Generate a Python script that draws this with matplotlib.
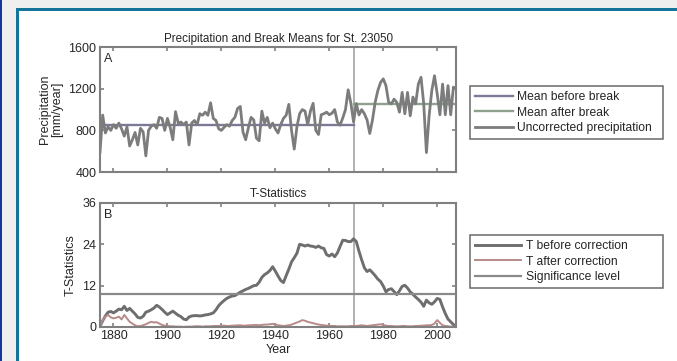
import numpy as np
import matplotlib.pyplot as plt
from matplotlib.patches import Rectangle

plt.rcParams['font.family'] = ['Liberation Sans', 'DejaVu Sans']

years = np.arange(1875, 2008)

precip = [
    590, 947, 775, 835, 800, 855, 820, 870, 815, 745,
    835, 650, 710, 780, 660, 820, 785, 555, 800, 840,
    855, 820, 925, 915, 800, 915, 830, 710, 980, 870,
    880, 855, 880, 660, 870, 895, 855, 960, 945, 975,
    945, 1065, 915, 895, 815, 800, 830, 855, 840, 895,
    925, 1010, 1030, 785, 710, 825, 925, 900, 725, 700,
    985, 870, 925, 825, 870, 815, 775, 855, 915, 945,
    1050, 800, 620, 835, 960, 1000, 985, 855, 985, 1060,
    800, 760, 950, 960, 975, 950, 965, 1000, 880, 850,
    920, 1000, 1190, 1060, 880, 1058, 948, 1000, 960, 900,
    770, 900, 1070, 1184, 1260, 1295, 1230, 1070, 1055, 1100,
    1070, 975, 1165, 960, 1165, 940, 1120, 1055, 1245, 1310,
    1055, 587, 940, 1184, 1325, 1150, 950, 1245, 950, 1230,
    950, 1215, 1200,
]

break_year = 1969
mean_before = 847
mean_after = 1052

t_before = [
    0.2, 1.8, 3.2, 4.3, 4.5, 4.1, 4.6, 5.2, 5.0, 6.0,
    4.8, 5.4, 4.6, 3.8, 2.8, 2.6, 3.1, 4.3, 4.6, 5.0,
    5.5, 6.3, 5.8, 5.1, 4.3, 3.6, 4.1, 4.6, 4.0, 3.4,
    3.0, 2.3, 2.1, 2.9, 3.2, 3.3, 3.3, 3.2, 3.3, 3.5,
    3.6, 3.8, 4.1, 5.0, 6.2, 7.0, 7.7, 8.3, 8.7, 9.0,
    9.1, 9.6, 10.1, 10.5, 10.9, 11.2, 11.6, 12.0, 12.1, 13.0,
    14.4, 15.2, 15.7, 16.4, 17.5, 16.2, 14.8, 13.5, 12.9, 14.9,
    16.8, 18.9, 20.1, 21.4, 24.0, 23.8, 23.5, 23.8, 23.5, 23.4,
    23.1, 23.5, 23.0, 22.8, 21.0, 20.6, 21.2, 20.4, 21.5, 23.4,
    25.2, 25.1, 24.8, 24.8, 25.6, 24.8, 22.0, 19.5, 17.2, 16.1,
    16.6, 15.8, 14.9, 13.9, 13.2, 11.9, 10.2, 10.9, 11.1, 10.3,
    9.4, 10.5, 11.8, 12.1, 11.3, 10.2, 9.5, 8.7, 8.0, 7.2,
    6.0, 7.8, 7.0, 6.6, 7.3, 8.3, 8.0, 5.8, 3.9, 2.3,
    1.5, 0.7, 0.1,
]

t_after = [
    0.0, 2.0, 3.0, 3.5, 2.8, 2.5, 2.7, 3.0, 2.2, 3.5,
    2.5, 1.5, 1.0, 0.5, 0.2, 0.3, 0.5, 0.8, 1.2, 1.5,
    1.3, 1.4, 1.0, 0.6, 0.4, 0.3, 0.2, 0.2, 0.1, 0.1,
    0.1, 0.0, 0.1, 0.1, 0.1, 0.2, 0.2, 0.2, 0.1, 0.2,
    0.2, 0.2, 0.3, 0.3, 0.3, 0.4, 0.4, 0.3, 0.3, 0.4,
    0.4, 0.5, 0.5, 0.4, 0.4, 0.5, 0.5, 0.6, 0.6, 0.5,
    0.6, 0.7, 0.7, 0.8, 0.9, 0.8, 0.5, 0.4, 0.3, 0.4,
    0.5, 0.7, 1.0, 1.3, 1.6, 2.0, 1.8, 1.5, 1.3, 1.1,
    0.9, 0.7, 0.6, 0.5, 0.4, 0.4, 0.3, 0.3, 0.2, 0.2,
    0.2, 0.2, 0.2, 0.3, 0.3, 0.3, 0.4, 0.5, 0.4, 0.3,
    0.4, 0.5, 0.6, 0.7, 0.8, 0.6, 0.4, 0.3, 0.3, 0.2,
    0.2, 0.2, 0.3, 0.3, 0.2, 0.2, 0.2, 0.3, 0.3, 0.4,
    0.4, 0.5, 0.5, 0.6, 1.0, 2.0, 1.2, 0.5, 0.3, 0.2,
    0.1, 0.1, 0.0,
]

sig_level = 9.6

fig = plt.figure(figsize=(6.77, 3.61), dpi=100, facecolor='white')

# page frame around the figure
fig.add_artist(Rectangle((0, 0), 16 / 677, 1, transform=fig.transFigure,
                         facecolor='#efefef', edgecolor='none', zorder=0))
fig.add_artist(Rectangle((0, 1 - 9 / 361), 1, 9 / 361, transform=fig.transFigure,
                         facecolor='#efefef', edgecolor='none', zorder=0))
fig.add_artist(Rectangle((0, 0), 2 / 677, 1, transform=fig.transFigure,
                         facecolor='#1238a0', edgecolor='none', zorder=1))
fig.add_artist(Rectangle((16 / 677, 0), 3 / 677, 1 - 8 / 361, transform=fig.transFigure,
                         facecolor='#16739a', edgecolor='none', zorder=1))
fig.add_artist(Rectangle((16 / 677, 1 - 11 / 361), 1, 3 / 361, transform=fig.transFigure,
                         facecolor='#16739a', edgecolor='none', zorder=1))

ax1 = fig.add_axes([0.1477, 0.5235, 0.526, 0.346])
ax2 = fig.add_axes([0.1477, 0.0942, 0.526, 0.3435])

txt_col = '#262626'
spine_col = '#808080'
for ax in (ax1, ax2):
    for s in ax.spines.values():
        s.set_color(spine_col)
        s.set_linewidth(1.5)
    ax.tick_params(direction='in', top=True, right=True, length=3,
                   color=spine_col, labelsize=9, labelcolor=txt_col, width=1.2, pad=2.5)
    ax.set_xlim(1875, 2007)
    ax.set_xticks([1880, 1900, 1920, 1940, 1960, 1980, 2000])
    ax.axvline(break_year, color='#aaaaaa', lw=1.3)

# panel A
yrs_b = years[years <= break_year]
yrs_a = years[years >= break_year]
l1, = ax1.plot(yrs_b, [mean_before] * len(yrs_b), color='#7a7a98', lw=1.7)
l2, = ax1.plot(yrs_a, [mean_after] * len(yrs_a), color='#8ea08e', lw=1.7)
l3, = ax1.plot(years, precip, color='#7c7c7c', lw=2.0)
ax1.set_ylim(400, 1600)
ax1.set_yticks([400, 800, 1200, 1600])
ax1.set_xticklabels([])
ax1.set_ylabel('Precipitation\n[mm/year]', fontsize=9, color=txt_col, linespacing=1.0)
ax1.set_title('Precipitation and Break Means for St. 23050', fontsize=8.4,
              color=txt_col, pad=4)
ax1.text(0.012, 0.95, 'A', transform=ax1.transAxes, ha='left', va='top',
         fontsize=9, color=txt_col)

leg_kw = dict(loc='upper left', mode='expand', bbox_transform=fig.transFigure,
              fontsize=8.7, fancybox=False, edgecolor='#6a6a6a', framealpha=1,
              borderaxespad=0, labelspacing=0.3, borderpad=0.42)
leg1 = fig.legend([l1, l2, l3],
                  ['Mean before break', 'Mean after break', 'Uncorrected precipitation'],
                  bbox_to_anchor=(470 / 677, 1 - 86 / 361 - 0.01, 193 / 677, 0.01),
                  handlelength=3.1, handletextpad=0.4, **leg_kw)
leg1.get_frame().set_linewidth(1.1)
for t in leg1.get_texts():
    t.set_color(txt_col)

# panel B
b1, = ax2.plot(years, t_before, color='#6e6e6e', lw=2.1)
b2, = ax2.plot(years, t_after, color='#b88a8a', lw=1.4)
b3 = ax2.axhline(sig_level, color='#8a8a8a', lw=1.6)
ax2.set_ylim(0, 36)
ax2.set_yticks([0, 12, 24, 36])
ax2.set_xlabel('Year', fontsize=9, color=txt_col, labelpad=1)
ax2.set_ylabel('T-Statistics', fontsize=9, color=txt_col)
ax2.set_title('T-Statistics', fontsize=8.4, color=txt_col, pad=4)
ax2.text(0.012, 0.95, 'B', transform=ax2.transAxes, ha='left', va='top',
         fontsize=9, color=txt_col)
leg2 = fig.legend([b1, b2, b3],
                  ['T before correction', 'T after correction', 'Significance level'],
                  bbox_to_anchor=(470 / 677, 1 - 235 / 361 - 0.01, 193 / 677, 0.01),
                  handlelength=3.8, handletextpad=0.45, **leg_kw)
leg2.get_frame().set_linewidth(1.1)
for t in leg2.get_texts():
    t.set_color(txt_col)

fig.savefig('out.png', dpi=100)
